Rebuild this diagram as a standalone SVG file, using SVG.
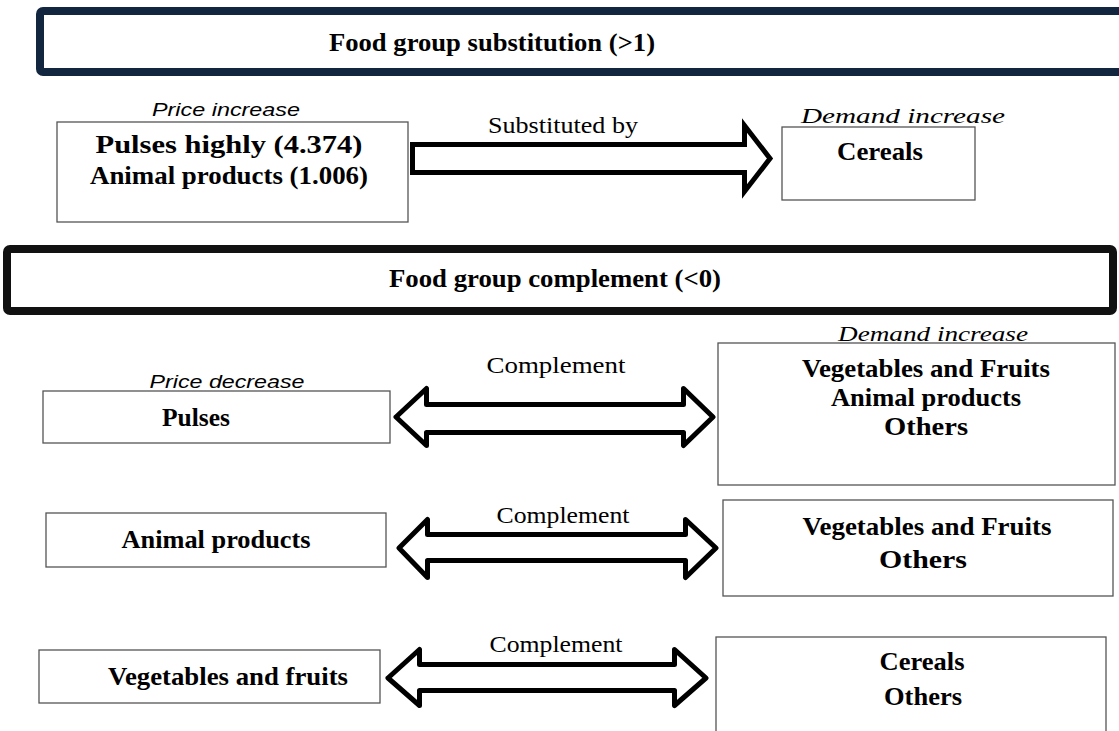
<svg xmlns="http://www.w3.org/2000/svg" width="1119" height="731" viewBox="0 0 1119 731">
<style>
.bg{fill:#ffffff}
.box{fill:#ffffff;stroke:#555555;stroke-width:1.3}
.b{font-family:"Liberation Serif","Times New Roman",serif;font-weight:bold;font-size:26px;fill:#000;text-anchor:middle}
.h{font-family:"Liberation Serif","Times New Roman",serif;font-weight:bold;font-size:25px;fill:#000;text-anchor:middle}
.lbl{font-family:"Liberation Serif","Times New Roman",serif;font-size:23px;fill:#000;text-anchor:middle}
.it{font-family:"Liberation Serif","Times New Roman",serif;font-style:italic;font-size:22px;fill:#000;text-anchor:middle}
.its{font-family:"Liberation Sans",Arial,sans-serif;font-style:italic;font-size:18px;fill:#000;text-anchor:middle}
.arr{fill:#ffffff;stroke:#000;stroke-width:5}
</style>
<rect class="bg" x="0" y="0" width="1119" height="731"/>
<g id="banner-substitution">
<rect x="40" y="11" width="1100" height="61" rx="3" fill="#fff" stroke="#132640" stroke-width="8"/>
<text class="h" x="492" y="51" textLength="326" lengthAdjust="spacingAndGlyphs">Food group substitution (&gt;1)</text>
</g>
<g id="node-price-increase">
<text class="its" x="226" y="116" textLength="148" lengthAdjust="spacingAndGlyphs">Price increase</text>
<rect class="box" x="57" y="122" width="351" height="100"/>
<text class="b" x="229" y="153" textLength="267" lengthAdjust="spacingAndGlyphs">Pulses highly (4.374)</text>
<text class="b" x="229" y="184" textLength="278" lengthAdjust="spacingAndGlyphs">Animal products (1.006)</text>
</g>
<g id="node-cereals">
<text class="it" x="903" y="123" textLength="204" lengthAdjust="spacingAndGlyphs">Demand increase</text>
<rect class="box" x="782" y="127" width="193" height="73"/>
<text class="b" x="880" y="160" textLength="86" lengthAdjust="spacingAndGlyphs">Cereals</text>
</g>
<g id="banner-complement">
<rect x="7" y="249" width="1106" height="62" rx="3" fill="#fff" stroke="#111111" stroke-width="8"/>
<text class="h" x="555" y="287" textLength="332" lengthAdjust="spacingAndGlyphs">Food group complement (&lt;0)</text>
</g>
<g id="node-pulses">
<text class="its" x="227" y="388" textLength="155" lengthAdjust="spacingAndGlyphs">Price decrease</text>
<rect class="box" x="43" y="391" width="347" height="52"/>
<text class="b" x="196" y="426" textLength="68" lengthAdjust="spacingAndGlyphs">Pulses</text>
</g>
<g id="node-demand-1">
<text class="it" x="933" y="341" textLength="190" lengthAdjust="spacingAndGlyphs">Demand increase</text>
<rect class="box" x="718" y="343" width="397" height="142"/>
<text class="b" x="926" y="377" textLength="248" lengthAdjust="spacingAndGlyphs">Vegetables and Fruits</text>
<text class="b" x="926" y="406" textLength="190" lengthAdjust="spacingAndGlyphs">Animal products</text>
<text class="b" x="926" y="435" textLength="84" lengthAdjust="spacingAndGlyphs">Others</text>
</g>
<g id="node-animal">
<rect class="box" x="46" y="513" width="340" height="54"/>
<text class="b" x="216" y="548" textLength="189" lengthAdjust="spacingAndGlyphs">Animal products</text>
</g>
<g id="node-demand-2">
<rect class="box" x="723" y="500" width="390" height="96"/>
<text class="b" x="927" y="535" textLength="249" lengthAdjust="spacingAndGlyphs">Vegetables and Fruits</text>
<text class="b" x="923" y="568" textLength="88" lengthAdjust="spacingAndGlyphs">Others</text>
</g>
<g id="node-vegfruits">
<rect class="box" x="39" y="650" width="341" height="53"/>
<text class="b" x="228" y="685" textLength="240" lengthAdjust="spacingAndGlyphs">Vegetables and fruits</text>
</g>
<g id="node-demand-3">
<rect class="box" x="716" y="637" width="390" height="110"/>
<text class="b" x="922" y="670" textLength="85" lengthAdjust="spacingAndGlyphs">Cereals</text>
<text class="b" x="923" y="705" textLength="78" lengthAdjust="spacingAndGlyphs">Others</text>
</g>
<g id="connectors">
<polygon class="arr" stroke-linejoin="miter" points="412.5,144.5 744.5,144.5 744.5,125.5 770,158.5 744.5,191.5 744.5,172.5 412.5,172.5"/>
<text class="lbl" x="563" y="133" textLength="150" lengthAdjust="spacingAndGlyphs">Substituted by</text>
<polygon class="arr" stroke-linejoin="round" points="396,417 426.5,388.5 426.5,404.5 683.5,404.5 683.5,388.5 713,417 683.5,445.5 683.5,432.5 426.5,432.5 426.5,445.5"/>
<text class="lbl" x="556" y="373" textLength="139" lengthAdjust="spacingAndGlyphs">Complement</text>
<polygon class="arr" stroke-linejoin="round" points="399,548 427.5,519.5 427.5,534.5 685.5,534.5 685.5,519.5 716,548 685.5,577.5 685.5,560.5 427.5,560.5 427.5,577.5"/>
<text class="lbl" x="563" y="523" textLength="133" lengthAdjust="spacingAndGlyphs">Complement</text>
<polygon class="arr" stroke-linejoin="round" points="388,678 419.5,649.5 419.5,664.5 674.5,664.5 674.5,649.5 706,678 674.5,705.5 674.5,690.5 419.5,690.5 419.5,705.5"/>
<text class="lbl" x="556" y="652" textLength="133" lengthAdjust="spacingAndGlyphs">Complement</text>
</g>
</svg>
